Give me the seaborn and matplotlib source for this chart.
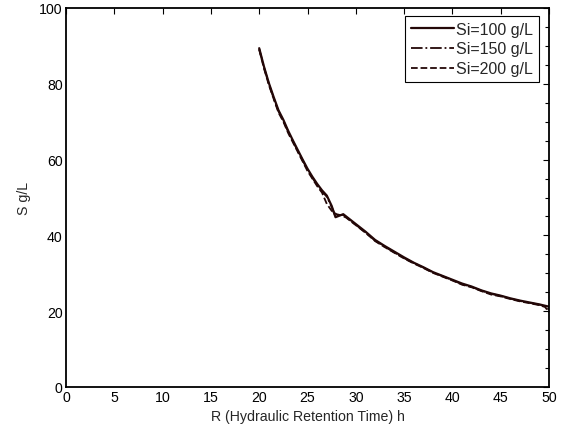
import numpy as np
import pandas as pd
import matplotlib
matplotlib.use("Agg")
import matplotlib.pyplot as plt
import seaborn as sns
from matplotlib.ticker import MultipleLocator

sns.set_style("white")
plt.rcParams['font.family'] = ['Liberation Sans', 'DejaVu Sans']

# Data
R100 = [20, 20.5, 21, 21.5, 22, 22.5, 23, 23.5, 24, 24.5, 25, 25.5, 26, 26.5, 27,
        27.5, 27.9, 28.3, 28.7, 29, 29.5, 30, 31, 32, 33, 34, 35, 36, 37, 38, 39,
        40, 41, 42, 43, 44, 45, 46, 47, 48, 49, 50]
S100 = [89.4, 84.5, 80.2, 76.5, 73.0, 70.5, 67.6, 65.0, 62.5, 60.0, 57.6, 55.5, 53.6,
        51.9, 50.5, 47.8, 44.8, 45.2, 45.6, 45.0, 44.0, 43.0, 41.0, 38.8, 37.2, 35.7,
        34.2, 32.8, 31.6, 30.3, 29.3, 28.3, 27.3, 26.5, 25.5, 24.7, 24.1, 23.4, 22.8,
        22.3, 21.8, 21.2]

R150 = [20, 20.5, 21, 21.5, 22, 22.5, 23, 23.5, 24, 24.5, 25, 25.5, 26, 26.5, 27,
        27.5, 27.9, 28.3, 28.7, 29, 29.5, 30, 31, 32, 33, 34, 35, 36, 37, 38, 39,
        40, 41, 42, 43, 44, 45, 46, 47, 48, 49, 49.6, 50]
S150 = [89.2, 84.3, 80.0, 76.2, 72.7, 70.3, 67.3, 64.8, 62.2, 59.8, 57.3, 55.2, 53.3,
        51.6, 50.2, 47.5, 45.0, 45.4, 45.4, 44.8, 43.8, 42.8, 40.8, 38.6, 37.0, 35.5,
        34.0, 32.7, 31.5, 30.2, 29.2, 28.2, 27.1, 26.4, 25.4, 24.6, 24.0, 23.3, 22.7,
        22.2, 21.7, 21.3, 20.4]

R200 = [20, 20.5, 21, 21.5, 22, 22.5, 23, 23.5, 24, 24.5, 25, 25.5, 26, 26.5, 27,
        27.5, 28, 28.5, 29, 29.5, 30, 31, 32, 33, 34, 35, 36, 37, 38, 39,
        40, 41, 42, 43, 44, 45, 46, 47, 48, 49, 49.6, 50]
S200 = [89.0, 84.0, 79.7, 76.0, 72.4, 70.0, 67.0, 64.5, 62.0, 59.5, 57.0, 55.0, 53.0,
        51.3, 48.3, 46.5, 45.6, 45.3, 44.7, 43.7, 42.7, 40.7, 38.5, 36.9, 35.4,
        33.9, 32.6, 31.4, 30.1, 29.1, 28.1, 27.0, 26.3, 25.3, 24.4, 23.9, 23.2, 22.6,
        22.1, 21.6, 21.1, 19.7]

labels = ["Si=100 g/L", "Si=150 g/L", "Si=200 g/L"]
color = "#230707"

fig = plt.figure(figsize=(5.66, 4.31), dpi=100)
ax = fig.add_axes([66/566, 1-388/431, (549-66)/566, (388-9)/431])

sns.lineplot(x=R100, y=S100, ax=ax, color=color, linewidth=1.6, linestyle='-', label=labels[0])
sns.lineplot(x=R150, y=S150, ax=ax, color=color, linewidth=1.3, linestyle='-.', label=labels[1])
sns.lineplot(x=R200, y=S200, ax=ax, color=color, linewidth=1.3, linestyle='--', label=labels[2])

ax.set_xlim(0, 50)
ax.set_ylim(0, 100)
ax.xaxis.set_major_locator(MultipleLocator(5))
ax.yaxis.set_major_locator(MultipleLocator(20))
ax.yaxis.set_minor_locator(MultipleLocator(5))
ax.tick_params(which='both', direction='in', top=True, right=True,
               labelsize=10.2, colors='black', length=4, width=0.8, pad=2.5)
ax.tick_params(which='minor', length=3)
for s in ax.spines.values():
    s.set_visible(True)
    s.set_color('black')
    s.set_linewidth(1.3)

ax.set_xlabel("R (Hydraulic Retention Time) h", fontsize=10.2, labelpad=3)
ax.set_ylabel("S g/L", fontsize=10.2, labelpad=6)

leg = ax.legend(loc='upper right', bbox_to_anchor=(539/566, 1-17/431),
                bbox_transform=fig.transFigure, fontsize=11.5, frameon=True,
                fancybox=False, edgecolor='black', handlelength=2.7,
                handletextpad=0.15, borderaxespad=0.0, labelspacing=0.3,
                borderpad=0.35)
leg.get_frame().set_linewidth(0.8)
leg.get_frame().set_alpha(1)

fig.savefig("out.png", dpi=100)
